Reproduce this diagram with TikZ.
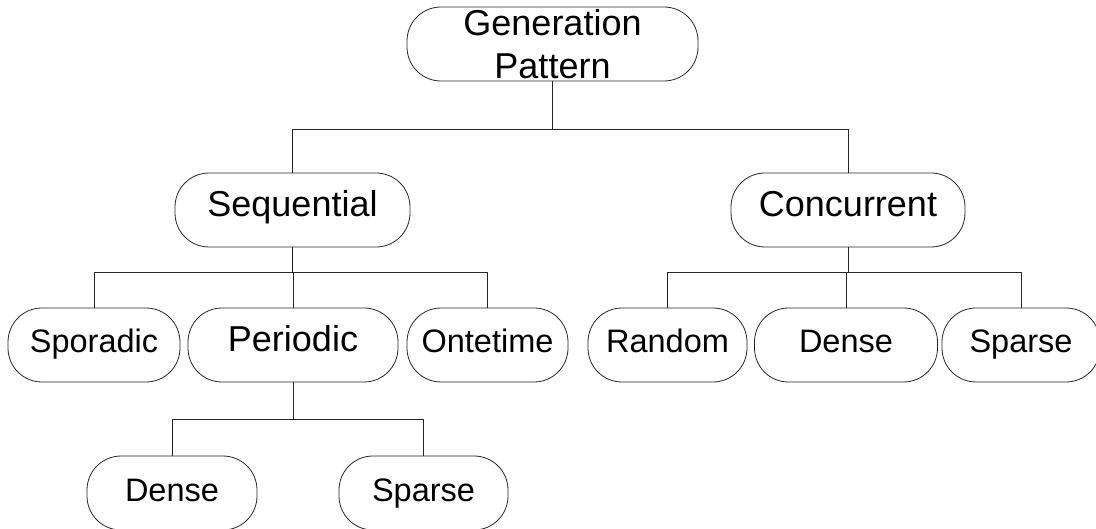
\documentclass[tikz,border=0pt]{standalone}
\usepackage{fontspec}
\setmainfont{Liberation Sans}
\begin{document}
\begin{tikzpicture}[x=1pt,y=-1pt,
  box/.style={draw=black!85, line width=0.8pt, rounded corners=34pt,
    minimum height=74pt, inner sep=0pt},
  big/.style={font=\fontsize{36}{43}\selectfont, text height=26pt, text depth=12pt},
  small/.style={font=\fontsize{32.5}{39}\selectfont, text height=23pt, text depth=7pt},
  link/.style={draw=black!85, line width=0.8pt}]
\useasboundingbox (0,0) rectangle (1096,529);
\clip (0,0) rectangle (1096,529);

% root of the tree
\node[box, font=\fontsize{36}{43}\selectfont, minimum width=291pt, align=center]
  (gen) at (552.5,44) {Generation\\Pattern};

% second level
\node[box, big, minimum width=235pt] (seq) at (292.5,210) {Sequential};
\node[box, big, minimum width=234pt] (con) at (848,210) {Concurrent};

% third level
\node[box, small, minimum width=172pt] (spo) at (94,345) {Sporadic};
\node[box, big,   minimum width=210pt] (per) at (293,345) {Periodic};
\node[box, small, minimum width=161pt] (ont) at (487.5,345) {Ontetime};
\node[box, small, minimum width=159pt] (ran) at (667.5,345) {Random};
\node[box, small, minimum width=183pt] (den) at (846,345) {Dense};
\node[box, small, minimum width=158pt] (spa) at (1021,345) {Sparse};

% fourth level
\node[box, small, minimum width=170pt] (pden) at (172,493) {Dense};
\node[box, small, minimum width=169pt] (pspa) at (423.5,493) {Sparse};

% bus rows
\coordinate (busA) at (0,129);
\coordinate (busB) at (0,272);
\coordinate (busC) at (0,419);

% connectors
\draw[link] (gen.south) -- (gen.south |- busA);
\draw[link] (seq.north) |- (con.north |- busA) -- (con.north);

\draw[link] (seq.south) -- (seq.south |- busB);
\draw[link] (spo.north) |- (ont.north |- busB) -- (ont.north);
\draw[link] (per.north) -- (per.north |- busB);

\draw[link] (con.south) -- (con.south |- busB);
\draw[link] (ran.north) |- (spa.north |- busB) -- (spa.north);
\draw[link] (den.north) -- (den.north |- busB);

\draw[link] (per.south) -- (per.south |- busC);
\draw[link] (pden.north) |- (pspa.north |- busC) -- (pspa.north);
\end{tikzpicture}
\end{document}
